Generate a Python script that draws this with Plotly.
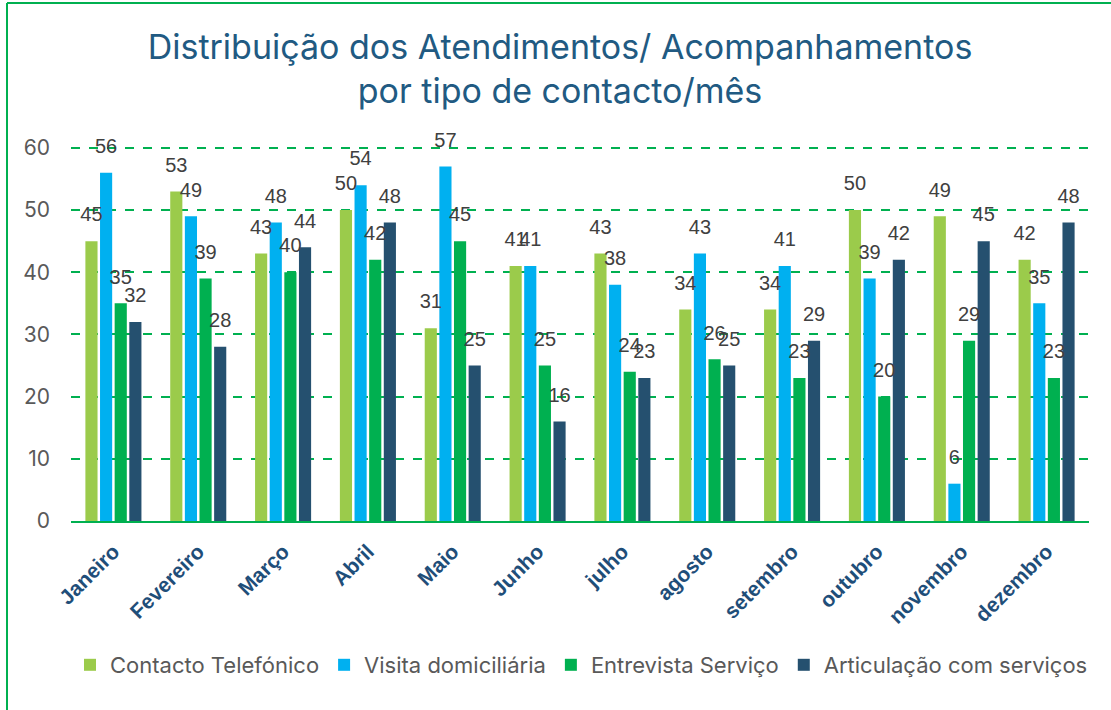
import plotly.graph_objects as go

months = ["Janeiro", "Fevereiro", "Março", "Abril", "Maio", "Junho", "julho",
          "agosto", "setembro", "outubro", "novembro", "dezembro"]
contacto_telefonico = [45, 53, 43, 50, 31, 41, 43, 34, 34, 50, 49, 42]
visita_domiciliaria = [56, 49, 48, 54, 57, 41, 38, 43, 41, 39, 6, 35]
entrevista_servico = [35, 39, 40, 42, 45, 25, 24, 26, 23, 20, 29, 23]
articulacao_servicos = [32, 28, 44, 48, 25, 16, 23, 25, 29, 42, 45, 48]

series = [
    ("Contacto Telefónico", contacto_telefonico, "#9BCB4B"),
    ("Visita domiciliária", visita_domiciliaria, "#00B0F0"),
    ("Entrevista Serviço", entrevista_servico, "#00B050"),
    ("Articulação com serviços", articulacao_servicos, "#25506F"),
]

W, H = 1111, 710
L, R, T, B = 71, 22, 146, 189
pw, ph = W - L - R, H - T - B

def px_x(x):
    return (x - L) / pw

def px_y(y):
    return (H - B - y) / ph

BARGAP = 0.31

fig = go.Figure()
for name, vals, color in series:
    fig.add_trace(go.Bar(
        name=name, x=months, y=vals, marker_color=color,
        marker_line_width=0,
    ))
# value labels, grouped to sit over their bars
for name, vals, color in series:
    fig.add_trace(go.Scatter(
        x=months, y=vals, mode="markers+text", text=vals,
        textposition="top center", cliponaxis=False, showlegend=False,
        marker=dict(size=22, color="rgba(0,0,0,0)"),
        textfont=dict(family="Liberation Sans, Arial, sans-serif", size=20, color="#404040"),
        hoverinfo="skip",
    ))

fig.update_layout(
    width=W, height=H,
    margin=dict(l=L, r=R, t=T, b=B),
    paper_bgcolor="white", plot_bgcolor="white",
    barmode="group", bargap=BARGAP, bargroupgap=0.17,
    scattermode="group", scattergap=BARGAP,
    title=dict(
        text="Distribuição dos Atendimentos/ Acompanhamentos<br>por tipo de contacto/mês",
        x=560 / W, xanchor="center", y=1 - 59 / H, yanchor="middle",
        font=dict(family="Inter, Open Sans, sans-serif", size=34, color="#215A82"),
    ),
    showlegend=True,
    legend=dict(
        orientation="h", x=px_x(70), xanchor="left", y=px_y(665), yanchor="middle",
        font=dict(family="Inter, Liberation Sans, sans-serif", size=22, color="#595959"),
        itemwidth=30, traceorder="normal",
    ),
    xaxis=dict(
        tickangle=-45, automargin=False, ticklabelstandoff=8,
        tickfont=dict(family="Liberation Sans, Arial, sans-serif", size=21,
                      color="#1F4E79", weight="bold"),
        showline=True, linecolor="#00B050", linewidth=2,
        ticks="", showgrid=False,
    ),
    yaxis=dict(
        range=[0, 60.3], dtick=10, automargin=False,
        tickfont=dict(family="Inter, Liberation Sans, sans-serif", size=21, color="#595959"),
        showgrid=True, gridcolor="#00B050", gridwidth=2, griddash="dash",
        zeroline=False, showline=False, ticks="", ticklabelstandoff=20,
    ),
    shapes=[
        dict(type="line", xref="paper", yref="paper",
             x0=px_x(7), x1=px_x(7), y0=px_y(3), y1=px_y(712),
             line=dict(color="#00B050", width=2)),
        dict(type="line", xref="paper", yref="paper",
             x0=px_x(7), x1=px_x(1112), y0=px_y(3), y1=px_y(3),
             line=dict(color="#00B050", width=2)),
    ],
)

fig.write_html("out.html", config={"displayModeBar": False},
               post_script="document.body.style.margin='0';")
